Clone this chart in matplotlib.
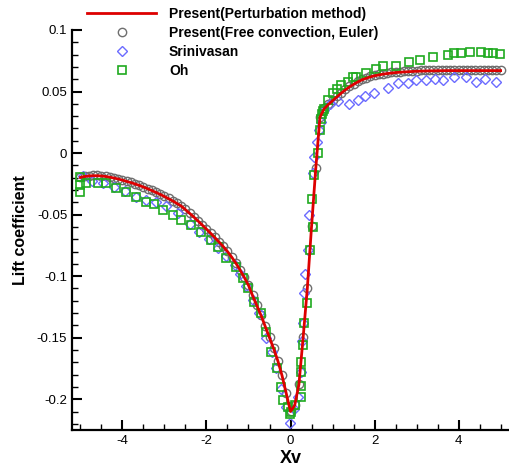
import numpy as np
import matplotlib
matplotlib.use("Agg")
import matplotlib.pyplot as plt
from matplotlib.ticker import MultipleLocator

plt.rcParams['font.family'] = ['Liberation Sans', 'DejaVu Sans']
plt.rcParams['axes.unicode_minus'] = False

# sampling positions of the present results (uniform step 0.1)
x_present = np.round(np.linspace(-5.0, 5.0, 101), 1)

# Present (Perturbation method) lift coefficient
cl_perturbation = [
    -0.0198, -0.0190, -0.0186, -0.0184, -0.0184, -0.0186, -0.0190, -0.0196, -0.0203, -0.0211,
    -0.0220, -0.0230, -0.0240, -0.0251, -0.0263, -0.0276, -0.0290, -0.0305, -0.0320, -0.0336,
    -0.0353, -0.0371, -0.0390, -0.0410, -0.0431, -0.0460, -0.0490, -0.0520, -0.0552, -0.0585,
    -0.0618, -0.0652, -0.0687, -0.0723, -0.0760, -0.0800, -0.0845, -0.0895, -0.0950, -0.1010,
    -0.1075, -0.1160, -0.1240, -0.1320, -0.1410, -0.1500, -0.1590, -0.1690, -0.1810, -0.1955,
    -0.2100,
    -0.2050, -0.1880, -0.1500, -0.1100, -0.0600, -0.0130, 0.0290, 0.0360, 0.0395, 0.0425,
    0.0455, 0.0485, 0.0512, 0.0537, 0.0558, 0.0578, 0.0595, 0.0608, 0.0619, 0.0628,
    0.0635, 0.0641, 0.0646, 0.0650, 0.0654, 0.0657, 0.0659, 0.0661, 0.0663, 0.0665,
    0.0666, 0.0667, 0.0668, 0.0668, 0.0669, 0.0669, 0.0670, 0.0670, 0.0670, 0.0670,
    0.0670, 0.0670, 0.0670, 0.0670, 0.0670, 0.0670, 0.0670, 0.0670, 0.0670, 0.0670,
]

# Present (Free convection, Euler) lift coefficient
cl_euler = [
    -0.0196, -0.0188, -0.0184, -0.0182, -0.0182, -0.0184, -0.0188, -0.0194, -0.0201, -0.0209,
    -0.0218, -0.0228, -0.0238, -0.0249, -0.0261, -0.0274, -0.0288, -0.0303, -0.0318, -0.0334,
    -0.0351, -0.0369, -0.0388, -0.0408, -0.0429, -0.0457, -0.0487, -0.0517, -0.0549, -0.0582,
    -0.0615, -0.0649, -0.0684, -0.0720, -0.0757, -0.0797, -0.0842, -0.0892, -0.0947, -0.1007,
    -0.1072, -0.1157, -0.1237, -0.1317, -0.1407, -0.1497, -0.1587, -0.1687, -0.1807, -0.1950,
    -0.2095,
    -0.2045, -0.1875, -0.1495, -0.1095, -0.0595, -0.0125, 0.0295, 0.0365, 0.0400, 0.0430,
    0.0460, 0.0490, 0.0517, 0.0542, 0.0563, 0.0583, 0.0600, 0.0613, 0.0624, 0.0633,
    0.0640, 0.0646, 0.0651, 0.0655, 0.0659, 0.0662, 0.0664, 0.0666, 0.0668, 0.0670,
    0.0671, 0.0672, 0.0673, 0.0673, 0.0674, 0.0674, 0.0675, 0.0675, 0.0675, 0.0675,
    0.0675, 0.0675, 0.0675, 0.0675, 0.0675, 0.0675, 0.0675, 0.0675, 0.0675, 0.0672,
]

# Srinivasan
x_srinivasan = [
    -4.95, -4.72, -4.47, -4.19, -3.95, -3.67, -3.45, -3.20, -2.96, -2.68,
    -2.40, -2.17, -1.95, -1.73, -1.53, -1.33, -1.21, -1.05, -0.90, -0.75,
    -0.58, -0.45, -0.35, -0.22, -0.10, -0.02, 0.08, 0.17, 0.25, 0.28,
    0.30, 0.33, 0.35, 0.41, 0.44, 0.53, 0.57, 0.62, 0.67, 0.72,
    0.80, 0.93, 1.13, 1.40, 1.60, 1.78, 1.98, 2.32, 2.55, 2.79,
    2.99, 3.23, 3.43, 3.64, 3.88, 4.18, 4.42, 4.62, 4.90,
]
cl_srinivasan = [
    -0.0190, -0.0225, -0.0245, -0.0272, -0.0305, -0.0360, -0.0385, -0.0400, -0.0430, -0.0490,
    -0.0580, -0.0640, -0.0700, -0.0770, -0.0840, -0.0910, -0.0980, -0.1080, -0.1190, -0.1300,
    -0.1500, -0.1620, -0.1750, -0.1920, -0.2060, -0.2197, -0.2080, -0.1980, -0.1780, -0.1530,
    -0.1380, -0.1140, -0.0980, -0.0790, -0.0500, -0.0165, -0.0030, 0.0090, 0.0187, 0.0250,
    0.0350, 0.0400, 0.0420, 0.0400, 0.0430, 0.0465, 0.0490, 0.0526, 0.0567, 0.0567,
    0.0593, 0.0593, 0.0600, 0.0593, 0.0620, 0.0620, 0.0580, 0.0600, 0.0580,
]

# Oh
x_oh = [
    -5.00, -5.00, -5.00, -4.86, -4.59, -4.39, -4.15, -3.91, -3.67, -3.44,
    -3.24, -3.04, -2.80, -2.60, -2.36, -2.13, -1.89, -1.73, -1.53, -1.29,
    -1.14, -1.02, -0.86, -0.70, -0.58, -0.46, -0.32, -0.22, -0.18, -0.06,
    -0.02, 0.02, 0.10, 0.24, 0.24, 0.25, 0.25, 0.29, 0.31, 0.39,
    0.47, 0.53, 0.51, 0.57, 0.65, 0.69, 0.72, 0.75, 0.77, 0.80,
    0.89, 1.00, 1.10, 1.20, 1.37, 1.49, 1.56, 1.80, 2.04, 2.20,
    2.50, 2.83, 3.07, 3.39, 3.75, 3.90, 4.06, 4.26, 4.54, 4.70,
    4.82, 4.98,
]
cl_oh = [
    -0.0198, -0.0260, -0.0315, -0.0247, -0.0247, -0.0240, -0.0280, -0.0315, -0.0355, -0.0396,
    -0.0417, -0.0460, -0.0504, -0.0540, -0.0585, -0.0640, -0.0707, -0.0762, -0.0856, -0.0924,
    -0.1019, -0.1100, -0.1210, -0.1300, -0.1450, -0.1615, -0.1750, -0.1900, -0.2010, -0.2060,
    -0.2120, -0.2100, -0.2050, -0.1980, -0.1890, -0.1780, -0.1700, -0.1560, -0.1380, -0.1220,
    -0.0790, -0.0600, -0.0370, -0.0180, 0.0000, 0.0187, 0.0280, 0.0320, 0.0340, 0.0360,
    0.0430, 0.0485, 0.0520, 0.0550, 0.0580, 0.0620, 0.0620, 0.0650, 0.0680, 0.0710,
    0.0705, 0.0740, 0.0760, 0.0780, 0.0797, 0.0810, 0.0815, 0.0820, 0.0822, 0.0815,
    0.0810, 0.0803,
]

fig = plt.figure(figsize=(5.09, 4.68), dpi=100)
ax = fig.add_axes([0.1415, 0.0812, 0.8585, 0.8547])

ax.plot(x_present, cl_perturbation, color='#dd0000', lw=2.0, zorder=3,
        label='Present(Perturbation method)')
ax.plot(x_present, cl_euler, ls='none', marker='o', ms=6, mfc='none',
        mec='#6e6e6e', mew=1.0, zorder=2,
        label='Present(Free convection, Euler)')
ax.plot(x_srinivasan, cl_srinivasan, ls='none', marker='D', ms=5, mfc='none',
        mec='#6b6bff', mew=1.0, zorder=2, label='Srinivasan')
ax.plot(x_oh, cl_oh, ls='none', marker='s', ms=5.5, mfc='none',
        mec='#1faa1f', mew=1.2, zorder=2, label='Oh')

ax.set_xlim(-5.2, 5.2)
ax.set_ylim(-0.225, 0.1)
ax.xaxis.set_major_locator(MultipleLocator(2))
ax.xaxis.set_minor_locator(MultipleLocator(0.5))
ax.yaxis.set_major_locator(MultipleLocator(0.05))
ax.yaxis.set_minor_locator(MultipleLocator(0.01))
ax.set_yticks([-0.2, -0.15, -0.1, -0.05, 0, 0.05, 0.1])
ax.set_yticklabels(['-0.2', '-0.15', '-0.1', '-0.05', '0', '0.05', '0.1'])

for side in ['top', 'right']:
    ax.spines[side].set_visible(False)
for side in ['left', 'bottom']:
    ax.spines[side].set_linewidth(1.6)
ax.tick_params(which='major', direction='in', length=7, width=1.5, labelsize=9.5)
ax.tick_params(which='minor', direction='in', length=4, width=1.0)

ax.set_xlabel('Xv', fontsize=13, fontweight='bold', labelpad=2)
ax.set_ylabel('Lift coefficient', fontsize=11.5, fontweight='bold', labelpad=6)

fig.legend(loc='upper left', bbox_to_anchor=(0.16, 0.997), frameon=False,
           prop={'weight': 'bold', 'size': 10}, handlelength=5,
           handletextpad=0.9, labelspacing=0.35, borderaxespad=0)

fig.savefig('out.png', dpi=100)
